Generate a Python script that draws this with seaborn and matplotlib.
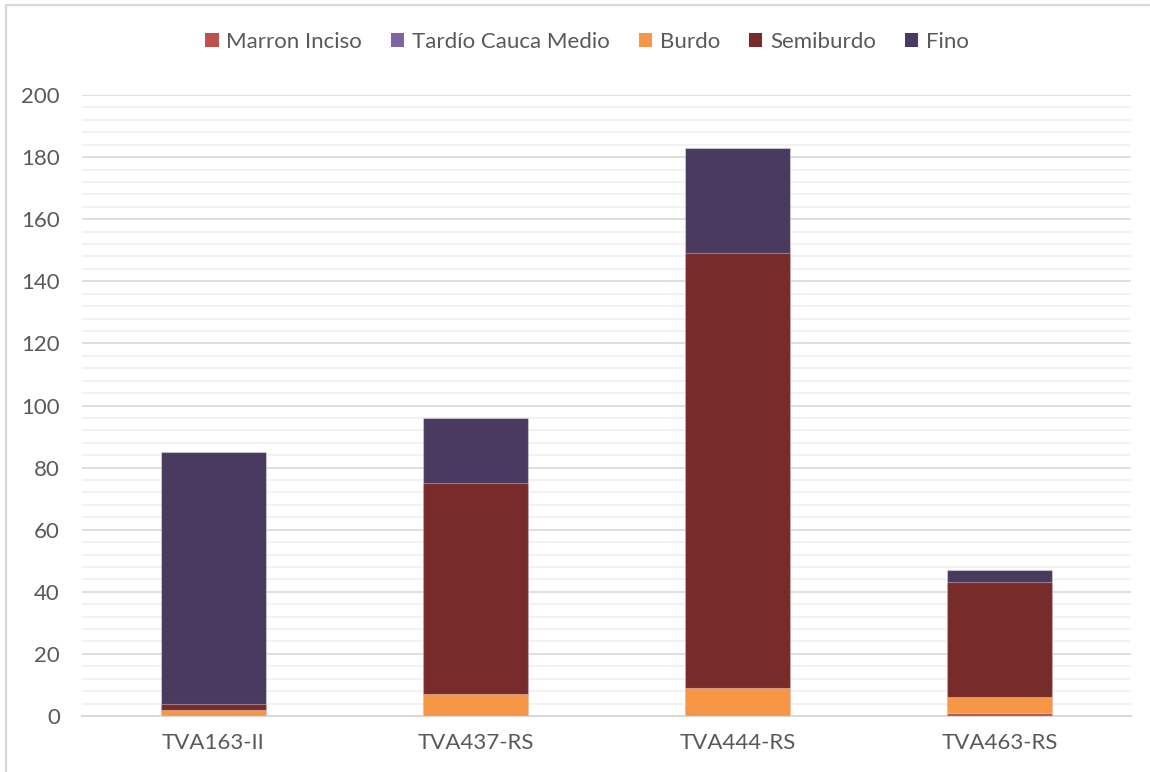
import matplotlib
matplotlib.use("Agg")
import matplotlib.pyplot as plt
from matplotlib.patches import Patch
from matplotlib.lines import Line2D
from matplotlib.ticker import MultipleLocator
import numpy as np
import pandas as pd
import seaborn as sns

# Sherd counts per site and ceramic type
sites = ["TVA163-II", "TVA437-RS", "TVA444-RS", "TVA463-RS"]
marron_inciso = [0, 0, 0, 1]
tardio_cauca_medio = [0, 0, 0, 0]
burdo = [2, 7, 9, 5]
semiburdo = [2, 68, 140, 37]
fino = [81, 21, 34, 4]

series_names = ["Marron Inciso", "Tardío Cauca Medio", "Burdo", "Semiburdo", "Fino"]
series_values = [marron_inciso, tardio_cauca_medio, burdo, semiburdo, fino]
series_colors = ["#C0504D", "#8064A2", "#F79646", "#772C2A", "#4B3A5F"]

sns.set_theme(style="white")
plt.rcParams["font.family"] = ["Lato", "DejaVu Sans"]

fig = plt.figure(figsize=(11.5, 7.72), dpi=100)
ax = fig.add_axes([82 / 1150, 56 / 772, (1131 - 82) / 1150, (716 - 95) / 772])

# Stack by drawing cumulative totals from the top segment down
df = pd.DataFrame({"site": sites})
cum = np.zeros(len(sites))
cums = []
for vals in series_values:
    cum = cum + np.array(vals)
    cums.append(cum.copy())

for name, color, total in reversed(list(zip(series_names, series_colors, cums))):
    df["total"] = total
    sns.barplot(data=df, x="site", y="total", color=color, saturation=1,
                width=0.40, ax=ax, edgecolor=(1, 1, 1, 0.35), linewidth=0.8,
                zorder=3)

ax.set_ylim(0, 200)
ax.set_xlim(-0.5, len(sites) - 0.5)
ax.yaxis.set_major_locator(MultipleLocator(20))
ax.yaxis.set_minor_locator(MultipleLocator(4))
ax.grid(axis="y", which="major", color="#D9D9D9", linewidth=1.2, zorder=0)
ax.grid(axis="y", which="minor", color="#F0F0F0", linewidth=1.2, zorder=0)
ax.grid(axis="x", visible=False)
ax.set_axisbelow(True)

for side in ["left", "right", "top"]:
    ax.spines[side].set_visible(False)
ax.spines["bottom"].set_color("#D9D9D9")
ax.spines["bottom"].set_linewidth(1.5)

ax.set_xlabel("")
ax.set_ylabel("")
ax.tick_params(axis="both", which="both", length=0, colors="#595959", labelsize=16)
ax.tick_params(axis="y", pad=16)
ax.tick_params(axis="x", pad=12)

handles = [Patch(facecolor=c, edgecolor="none", label=n)
           for n, c in zip(series_names, series_colors)]
fig.legend(handles=handles, loc="center", bbox_to_anchor=(587 / 1150, 1 - 42 / 772),
           ncol=5, frameon=False, fontsize=16, handlelength=0.6,
           handleheight=0.6, handletextpad=0.35, columnspacing=1.3,
           labelcolor="#595959")

# Chart area frame (left and top edges)
fig.add_artist(Line2D([5.5 / 1150, 5.5 / 1150], [0, 1 - 4.5 / 772],
                      transform=fig.transFigure, color="#D9D9D9", linewidth=1.6))
fig.add_artist(Line2D([5.5 / 1150, 1], [1 - 4.5 / 772, 1 - 4.5 / 772],
                      transform=fig.transFigure, color="#D9D9D9", linewidth=1.6))

fig.savefig("out.png", dpi=100)
